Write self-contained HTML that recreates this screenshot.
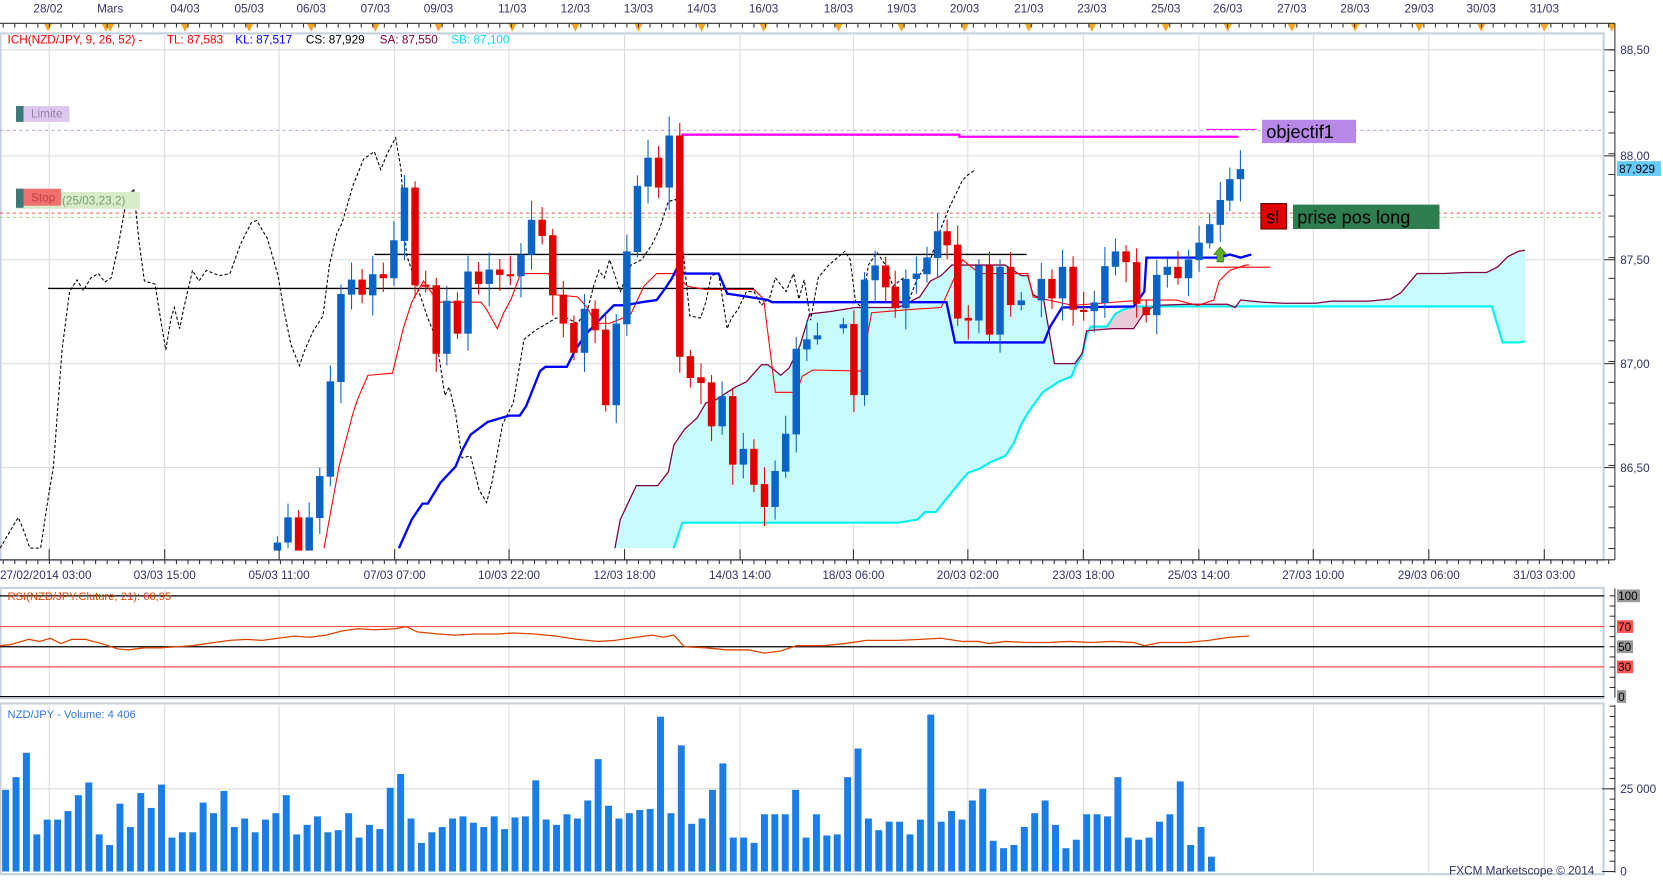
<!DOCTYPE html>
<html><head><meta charset="utf-8"><style>
html,body{margin:0;padding:0;background:#fff;overflow:hidden}
svg{display:block}
text{font-family:"Liberation Sans",sans-serif}
</style></head><body>
<svg id="s" width="1663" height="880" viewBox="0 0 1555 830" preserveAspectRatio="none" xmlns="http://www.w3.org/2000/svg">
<rect width="1555" height="830" fill="#fff"/>
<g id="grid" stroke="#dcdcdc" stroke-width="1"></g>
<rect x="0.5" y="31.5" width="1499" height="497" fill="none" stroke="#c8d2de" stroke-width="2"/>
<rect x="0.5" y="554.5" width="1499" height="104" fill="none" stroke="#c8d2de" stroke-width="2"/>
<rect x="0.5" y="663.5" width="1499" height="161" fill="none" stroke="#c8d2de" stroke-width="2"/>
<g id="cloud"></g>
<g id="lines" fill="none"></g>
<g id="candles"></g>
<g id="ann"></g>
<g id="axes" stroke="#333" stroke-width="1"></g>
<g id="txt" font-size="11" fill="#333366"></g>
<g id="rsi"></g>
<g id="vol" fill="#1a7ee6"></g>
</svg>
<script>
const NS="http://www.w3.org/2000/svg";
function el(p,t,a,txt){const e=document.createElementNS(NS,t);for(const k in a)e.setAttribute(k,a[k]);if(txt!=null)e.textContent=txt;document.getElementById(p).appendChild(e);return e;}
function pts(a){return a.map(p=>p[0]+","+p[1]).join(" ");}
const G=[46,154,261,369,476,584,692,798,905,1013,1121,1228,1336,1444];
G.forEach(x=>{el("grid","line",{x1:x,y1:33,x2:x,y2:528});el("grid","line",{x1:x,y1:556,x2:x,y2:658});el("grid","line",{x1:x,y1:665,x2:x,y2:823});});
[47,147,245,343,441].forEach(y=>el("grid","line",{x1:0,y1:y,x2:1500,y2:y}));
el("grid","line",{x1:0,y1:744,x2:1500,y2:744});
const SA=[[575,517],[580,490],[595,458],[615,458],[625,445],[630,420],[640,405],[652,394],[660,380],[668,378],[680,370],[688,365],[698,360],[712,344],[718,344],[730,354],[738,347],[748,326],[757,296],[775,294],[800,290],[840,290],[860,280],[870,265],[880,260],[890,250],[900,250],[940,250],[955,260],[961,260],[966,278],[976,283],[986,343],[1005,343],[1012,333],[1016,312],[1040,310],[1060,310],[1070,295],[1080,288],[1110,287],[1148,287],[1155,290],[1160,283],[1180,285],[1200,286],[1230,286],[1245,284],[1280,284],[1300,282],[1310,276],[1325,258],[1350,258],[1370,257],[1390,257],[1400,252],[1410,242],[1420,237],[1426,236]];
const SB=[[630,517],[638,493],[840,493],[858,490],[865,483],[875,483],[895,458],[905,446],[916,442],[926,436],[940,430],[948,418],[955,400],[962,388],[975,370],[990,360],[1002,355],[1006,345],[1012,335],[1016,316],[1020,308],[1035,308],[1043,296],[1050,292],[1060,289],[1395,289],[1405,323],[1420,323],[1426,322]];
el("cloud","polygon",{points:pts(SA.concat([[1426,322]]).concat(SB.slice().reverse())),fill:"#c8fcfc"});
el("cloud","polygon",{points:pts([[1012,333],[1016,316],[1020,308],[1035,308],[1043,296],[1050,292],[1060,289],[1158,289],[1155,290],[1148,287],[1110,287],[1080,288],[1070,295],[1060,310],[1040,310],[1016,312]]),fill:"#e8ccd8"});
el("lines","line",{x1:45,y1:272,x2:705,y2:272,stroke:"#000","stroke-width":1.3});
el("lines","line",{x1:350,y1:240,x2:960,y2:240,stroke:"#000","stroke-width":1.3});
el("lines","line",{x1:0,y1:123,x2:1500,y2:123,stroke:"#c8a8dc","stroke-dasharray":"3,3"});
el("lines","line",{x1:0,y1:201,x2:1500,y2:201,stroke:"#ff5050","stroke-dasharray":"3,3"});
el("lines","line",{x1:0,y1:205,x2:1500,y2:205,stroke:"#a0d080","stroke-dasharray":"3,3"});
el("lines","polyline",{points:"637,127 897,127 897,129 1158,129",stroke:"#ff00ff","stroke-width":2.2});
el("lines","line",{x1:1128,y1:122,x2:1175,y2:122,stroke:"#ff00ff","stroke-width":1});
const CH=[[0,517],[10,500],[17,488],[22,500],[28,517],[38,517],[45,470],[50,440],[58,330],[65,275],[72,264],[78,274],[85,262],[92,258],[98,266],[104,262],[110,235],[118,190],[125,178],[130,228],[135,265],[145,268],[150,300],[155,330],[160,300],[163,290],[168,310],[172,290],[180,255],[186,265],[193,255],[205,260],[215,258],[225,230],[235,210],[240,208],[250,225],[260,260],[265,290],[272,325],[280,345],[285,330],[293,312],[302,298],[308,250],[315,220],[320,210],[330,175],[340,150],[350,143],[356,160],[362,145],[370,130],[375,160],[380,240],[390,270],[400,300],[408,320],[416,373],[420,365],[426,390],[432,432],[440,430],[448,462],[455,474],[460,455],[470,400],[480,380],[490,320],[500,312],[520,300],[530,300],[540,305],[550,290],[555,270],[560,255],[565,262],[570,245],[580,275],[590,250],[600,245],[610,230],[617,215],[625,190],[632,188],[637,220],[645,298],[655,300],[660,285],[665,260],[672,258],[680,310],[684,300],[690,292],[698,275],[705,275],[712,288],[720,280],[725,262],[735,275],[742,258],[747,282],[752,264],[758,302],[765,262],[775,250],[790,237],[795,245],[800,285],[806,290],[812,250],[820,238],[828,250],[835,270],[845,262],[850,283],[858,262],[870,245],[878,220],[888,195],[900,170],[905,165],[912,160]];
el("lines","polyline",{points:pts(CH),stroke:"#000","stroke-width":1,"stroke-dasharray":"3,2"});
el("lines","polyline",{points:pts(SB),stroke:"#00f0f0","stroke-width":2});
el("lines","polyline",{points:pts(SA),stroke:"#800040","stroke-width":1.2});
const TK=[[303,517],[317,440],[330,390],[335,375],[344,354],[367,352],[377,310],[385,285],[396,265],[400,271],[410,285],[450,285],[455,292],[465,310],[471,295],[478,282],[486,260],[491,258],[513,258],[520,278],[540,280],[549,290],[557,305],[570,305],[580,301],[590,296],[602,270],[614,258],[630,258],[643,270],[659,273],[705,273],[714,282],[725,370],[745,370],[750,355],[760,349],[805,350],[815,295],[850,292],[880,290],[900,245],[916,258],[961,258],[966,280],[985,284],[1003,288],[1068,283],[1100,283],[1120,288],[1135,283],[1140,265],[1150,255],[1165,250],[1168,250]];
el("lines","polyline",{points:pts(TK),stroke:"#ff0000","stroke-width":1});
el("lines","line",{x1:1128,y1:252,x2:1188,y2:252,stroke:"#ff0000","stroke-width":1});
const KJ=[[373,517],[385,490],[395,475],[400,475],[412,455],[426,440],[432,425],[440,410],[456,398],[476,392],[486,392],[492,383],[505,350],[510,346],[530,346],[538,330],[548,315],[565,297],[574,288],[584,288],[600,285],[614,283],[622,272],[628,263],[633,253],[640,258],[672,258],[680,277],[700,280],[718,283],[722,285],[885,285],[893,323],[976,323],[982,308],[993,290],[1060,289],[1070,275],[1072,243],[1140,243],[1150,240],[1160,243],[1170,240]];
el("lines","polyline",{points:pts(KJ),stroke:"#0000ff","stroke-width":2.2});
const BL="#0b63c6",RD="#e00000";
function cz(zx,a,b,o){const x=o+zx/2.02,y1=84.1+a/3.157,y2=84.1+b/3.157;return[x,Math.min(y1,y2),Math.max(y1,y2)];}
const C4=[[524,1350,1374,"b"],[544,1275,1350,"b"],[564,1275,1374,"r"],[584,1275,1374,"b"],[604,1152,1277,"b"],[624,870,1154,"b"],[644,610,872,"b"],[664,567,612,"b"],[684,567,612,"r"],[704,551,614,"b"],[724,551,563,"r"],[744,450,563,"b"],[764,293,452,"b"],[784,293,584,"r"],[804,582,586,"r"],[824,584,788,"r"],[844,630,788,"b"],[864,630,728,"r"],[884,543,728,"b"],[904,543,580,"r"],[924,537,580,"b"],[944,537,553,"r"],[964,551,555,"r"],[984,493,557,"b"],[1004,389,493,"b"],[1024,389,437,"r"],[1044,435,614,"r"],[1064,612,698,"r"],[1084,696,785,"r"],[1104,654,785,"b"],[1124,654,718,"r"],[1144,716,941,"r"],[1164,698,941,"b"],[1184,483,700,"b"],[1204,288,485,"b"],[1224,204,290,"b"],[1244,204,293,"r"],[1264,138,293,"b"],[1284,138,797,"r"],[1304,795,860,"r"],[1324,858,875,"r"],[1344,873,1004,"r"],[1364,914,1004,"b"],[1384,914,1118,"r"],[1404,1071,1118,"b"],[1424,1071,1178,"r"],[1444,1176,1244,"r"],[1464,1137,1244,"b"],[1484,1026,1139,"b"],[1504,773,1028,"b"],[1524,745,775,"b"],[1544,733,745,"b"]];
const C5=[[26,700,712,"b"],[46,699,911,"r"],[66,567,911,"b"],[86,525,569,"b"],[106,525,590,"r"],[124,588,652,"r"],[144,565,652,"b"],[164,549,565,"b"],[184,501,551,"b"],[204,423,503,"b"],[222,423,465,"r"],[242,463,683,"r"],[262,681,689,"r"],[282,525,689,"b"],[302,525,731,"r"],[322,529,731,"b"],[342,529,643,"r"],[362,629,643,"b"],[400,565,629,"b"],[420,565,623,"r"],[440,529,623,"b"],[460,529,657,"r"],[480,657,661,"r"],[500,635,661,"b"],[520,527,637,"b"],[540,483,529,"b"],[560,483,515,"r"],[580,515,639,"r"],[598,649,673,"r"],[618,553,673,"b"],[638,529,553,"b"],[658,529,563,"r"],[678,507,563,"b"],[698,457,509,"b"],[718,402,459,"b"],[738,330,404,"b"],[756,268,332,"b"],[776,238,268,"b"]];
function draw(list,o){list.forEach((c,i)=>{const[x,t,b]=cz(c[0],c[1],c[2],o);const col=c[3]=="b"?BL:RD;const h=Math.max(b-t,2);const w1=6+(i*7)%13,w2=5+(i*11)%17;el("candles","line",{x1:x,y1:t-w1,x2:x,y2:Math.min(517,b+w2),stroke:col,"stroke-width":1});el("candles","rect",{x:x-3.5,y:t,width:7,height:h,fill:col});});}
draw(C4,0);draw(C5,775.7);
el("ann","rect",{x:15,y:100,width:50,height:15,fill:"#dcc8ec"});
el("ann","rect",{x:15,y:100,width:7,height:15,fill:"#3a7a78"});
el("ann","text",{x:29,y:111,"font-size":11,fill:"#9a80b0"},"Limite");
el("ann","rect",{x:15,y:181,width:116,height:16,fill:"#d8eccc"});
el("ann","text",{x:58,y:193,"font-size":11,fill:"#7aa070"},"(25/03,23,2)");
el("ann","rect",{x:15,y:178,width:42,height:16,fill:"#f07070"});
el("ann","rect",{x:15,y:178,width:7,height:18,fill:"#3a7a78"});
el("ann","text",{x:29,y:190,"font-size":11,fill:"#c04040"},"Stop");
el("ann","rect",{x:1180,y:113,width:88,height:22,fill:"#b888e8"});
el("ann","text",{x:1184,y:130,"font-size":17,fill:"#000"},"objectif1");
el("ann","rect",{x:1179,y:192,width:24,height:24,fill:"#e00000",stroke:"#600"});
el("ann","text",{x:1184,y:211,"font-size":17,fill:"#000"},"sl");
el("ann","rect",{x:1209,y:193,width:137,height:23,fill:"#2e7d4f"});
el("ann","text",{x:1213,y:211,"font-size":17,fill:"#000"},"prise pos long");
el("ann","polygon",{points:"1141,233 1147,240 1144,240 1144,247 1138,247 1138,240 1135,240",fill:"#5ab020",stroke:"#2a6010","stroke-width":0.6});
el("axes","line",{x1:0,y1:22,x2:1510,y2:22});
for(let x=3;x<1510;x+=10.8)el("axes","line",{x1:x,y1:22,x2:x,y2:26});
el("axes","line",{x1:1510,y1:22,x2:1510,y2:528});
el("axes","line",{x1:0,y1:528,x2:1510,y2:528});
for(let x=3;x<1510;x+=10.8)el("axes","line",{x1:x,y1:528,x2:x,y2:532});
G.forEach(x=>el("axes","line",{x1:x,y1:518,x2:x,y2:528}));
for(let y=47-19.6*2;y<528;y+=19.6)if(y>30)el("axes","line",{x1:1504,y1:y,x2:1510,y2:y});
[47,147,245,343,441].forEach(y=>el("axes","line",{x1:1500,y1:y,x2:1510,y2:y}));
el("axes","line",{x1:1510,y1:555,x2:1510,y2:658});
for(let y=562;y<=658;y+=9.6)el("axes","line",{x1:1505,y1:y,x2:1510,y2:y});
el("axes","line",{x1:1510,y1:665,x2:1510,y2:823});
for(let y=822;y>665;y-=9.75)el("axes","line",{x1:1505,y1:y,x2:1510,y2:y});
el("axes","line",{x1:1498,y1:744,x2:1510,y2:744});
el("axes","line",{x1:1498,y1:822,x2:1510,y2:822});
const TL=[["28/02",45],["Mars",103],["04/03",173],["05/03",233],["06/03",291],["07/03",351],["09/03",410],["11/03",479],["12/03",538],["13/03",597],["14/03",656],["16/03",714],["18/03",784],["19/03",843],["20/03",902],["21/03",962],["23/03",1021],["25/03",1090],["26/03",1148],["27/03",1208],["28/03",1267],["29/03",1327],["30/03",1385],["31/03",1444]];
TL.forEach(l=>{el("txt","text",{x:l[1],y:12,"text-anchor":"middle"},l[0]);el("ann","polygon",{points:(l[1]-4)+",22 "+(l[1]+4)+",22 "+l[1]+",30",fill:"#f5a623"});});
el("ann","polygon",{points:"95,22 103,22 99,30",fill:"#f5a623"});
el("ann","polygon",{points:"1503,22 1511,22 1507,30",fill:"#f5a623"});
const BLb=["27/02/2014 03:00","03/03 15:00","05/03 11:00","07/03 07:00","10/03 22:00","12/03 18:00","14/03 14:00","18/03 06:00","20/03 02:00","23/03 18:00","25/03 14:00","27/03 10:00","29/03 06:00","31/03 03:00"];
BLb.forEach((t,i)=>{if(i==0)el("txt","text",{x:0,y:546},t);else el("txt","text",{x:G[i],y:546,"text-anchor":"middle"},t);});
[["88,50",47],["88,00",147],["87,50",245],["87,00",343],["86,50",441]].forEach(p=>el("txt","text",{x:1515,y:p[1]+4},p[0]));
el("ann","rect",{x:1512,y:152,width:41,height:14,fill:"#66ccff"});
el("txt","text",{x:1514,y:163,fill:"#000"},"87,929");
const LG=[["ICH(NZD/JPY, 9, 26, 52) - ","#ff0000",7],["TL: 87,583","#ff0000",156],["KL: 87,517","#0000ff",220],["CS: 87,929","#000",286],["SA: 87,550","#800040",355],["SB: 87,100","#00e0f0",422]];
LG.forEach(l=>el("txt","text",{x:l[2],y:41,fill:l[1]},l[0]));
[[562,"#000"],[591,"#ff5050"],[610,"#000"],[629,"#ff5050"],[657,"#000"]].forEach(l=>el("rsi","line",{x1:0,y1:l[0],x2:1500,y2:l[0],stroke:l[1],"stroke-width":1.1}));
el("rsi","text",{x:7,y:566,"font-size":10.5,fill:"#dd4400"},"RSI(NZD/JPY.Cluture, 21): 60,95");
const R=[[0,609],[10,608],[27,603],[37,605],[47,602],[57,607],[67,603],[80,603],[95,607],[110,612],[120,613],[135,611],[150,611],[165,610],[180,609],[200,606],[215,604],[230,603],[245,604],[260,602],[275,600],[290,601],[305,599],[320,595],[335,593],[350,594],[370,593],[380,591],[390,596],[410,598],[425,599],[445,598],[465,598],[480,597],[500,598],[520,600],[540,603],[560,605],[575,604],[595,601],[610,599],[620,601],[630,599],[640,610],[660,611],[680,613],[700,613],[715,616],[730,614],[745,609],[770,609],[790,607],[810,604],[840,604],[860,603],[880,602],[900,605],[915,605],[925,607],[940,605],[960,606],[980,606],[1000,605],[1020,606],[1040,605],[1060,606],[1070,609],[1085,606],[1110,606],[1130,604],[1150,601],[1168,600]];
el("rsi","polyline",{points:pts(R),fill:"none",stroke:"#dd4400","stroke-width":1.2});
[["100",562,"#999"],["70",591,"#ff5555"],["50",610,"#999"],["30",629,"#ff5555"],["0",657,"#999"]].forEach(l=>{const w=l[0].length*6.5+2;el("rsi","rect",{x:1512,y:l[1]-6,width:w,height:12,fill:l[2]});el("rsi","text",{x:1513,y:l[1]+4,"font-size":11,fill:"#000"},l[0]);});
el("txt","text",{x:7,y:677,fill:"#3377dd","font-size":10.5},"NZD/JPY - Volume: 4 406");
const V=[745,733,710,787,773,773,765,750,738,787,797,758,780,748,762,740,790,785,785,757,767,746,780,772,785,773,767,750,787,778,770,785,783,767,790,778,782,743,730,772,795,785,780,772,770,776,780,770,782,771,770,736,773,778,768,772,755,716,760,772,767,764,763,676,767,703,777,772,745,720,790,790,795,768,768,768,745,790,768,788,787,733,706,772,783,775,775,787,773,674,775,765,773,755,744,793,800,797,780,767,755,778,800,792,768,768,770,733,790,792,790,775,768,737,797,780,808];
V.forEach((t,i)=>el("vol","rect",{x:2+i*9.72,y:t,width:6.5,height:822-t}));
el("txt","text",{x:1515,y:748},"25 000");
el("txt","text",{x:1515,y:826},"0");
el("txt","text",{x:1355,y:825,fill:"#333366"},"FXCM Marketscope © 2014");
</script>
</body></html>
